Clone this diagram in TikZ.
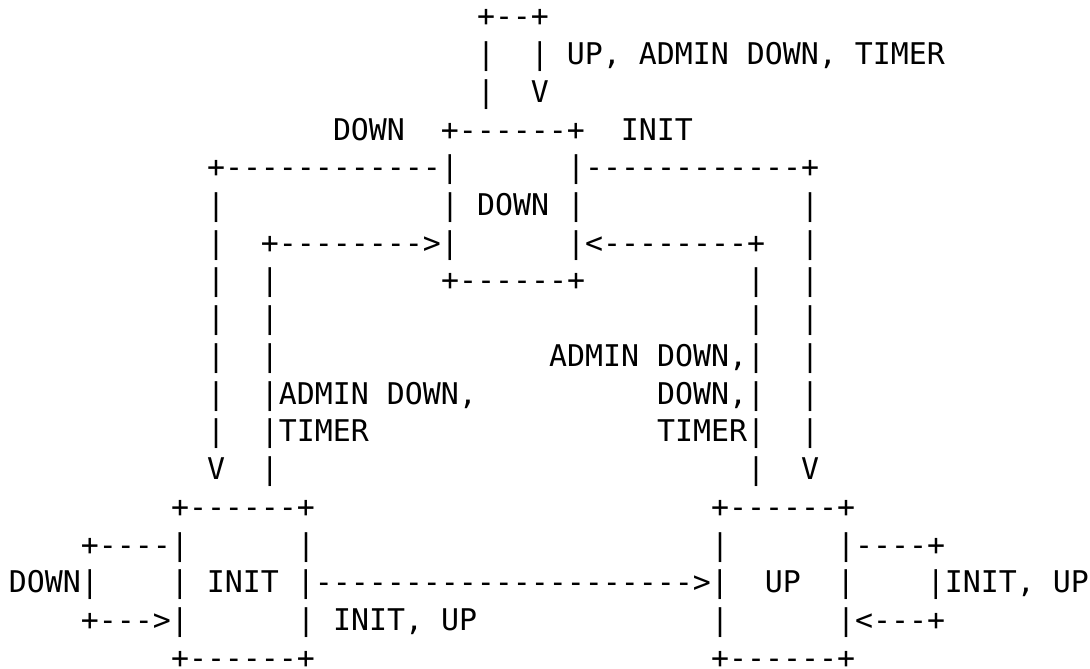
\documentclass[tikz,border=0pt]{standalone}
\usepackage{fontspec}
\setmonofont{DejaVu Sans Mono}
\newcommand\blank[1]{\kern#1\fontcharwd\font`x\relax}
\tikzset{
ascii/.style={anchor=base west, inner sep=0pt, outer sep=0pt,
  font=\ttfamily\fontsize{14.95}{18}\selectfont}
}
\begin{document}
\begin{tikzpicture}[x=9pt, y=-18.87pt]
  \useasboundingbox (0,0) rectangle (60.556,17.726);
  \node[ascii] (row0) at (26.5,0.71) {+--+};
  \node[ascii] (row1) at (26.5,1.71) {|\blank{2}| UP, ADMIN DOWN, TIMER};
  \node[ascii] (row2) at (26.5,2.71) {|\blank{2}V};
  \node[ascii] (row3) at (18.5,3.71) {DOWN\blank{2}+------+\blank{2}INIT};
  \node[ascii] (row4) at (11.5,4.71) {+------------|\blank{6}|------------+};
  \node[ascii] (row5) at (11.5,5.71) {|\blank{12}| DOWN |\blank{12}|};
  \node[ascii] (row6) at (11.5,6.71) {|\blank{2}+-------->|\blank{6}|<--------+\blank{2}|};
  \node[ascii] (row7) at (11.5,7.71) {|\blank{2}|\blank{9}+------+\blank{9}|\blank{2}|};
  \node[ascii] (row8) at (11.5,8.71) {|\blank{2}|\blank{26}|\blank{2}|};
  \node[ascii] (row9) at (11.5,9.71) {|\blank{2}|\blank{15}ADMIN DOWN,|\blank{2}|};
  \node[ascii] (row10) at (11.5,10.71) {|\blank{2}|ADMIN DOWN,\blank{10}DOWN,|\blank{2}|};
  \node[ascii] (row11) at (11.5,11.71) {|\blank{2}|TIMER\blank{16}TIMER|\blank{2}|};
  \node[ascii] (row12) at (11.5,12.71) {V\blank{2}|\blank{26}|\blank{2}V};
  \node[ascii] (row13) at (9.5,13.71) {+------+\blank{22}+------+};
  \node[ascii] (row14) at (4.5,14.71) {+----|\blank{6}|\blank{22}|\blank{6}|----+};
  \node[ascii] (row15) at (0.5,15.71) {DOWN|\blank{4}| INIT |--------------------->|\blank{2}UP\blank{2}|\blank{4}|INIT, UP};
  \node[ascii] (row16) at (4.5,16.71) {+--->|\blank{6}| INIT, UP\blank{13}|\blank{6}|<---+};
  \node[ascii] (row17) at (9.5,17.71) {+------+\blank{22}+------+};
\end{tikzpicture}
\end{document}
